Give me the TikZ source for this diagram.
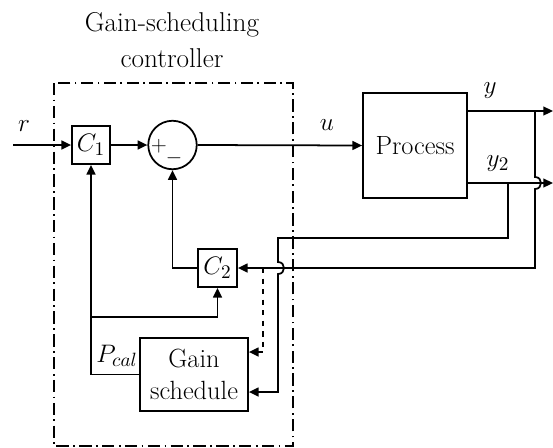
\documentclass[tikz,border=0pt]{standalone}
\usepackage{amsmath}
\usetikzlibrary{arrows.meta}

\begin{document}
\begin{tikzpicture}[x=0.02cm,y=-0.02cm,line width=1pt,font=\fontsize{15}{18}\selectfont,
  >={Triangle[length=5.5pt,width=5pt]},
  blk/.style={draw,rectangle,inner sep=1pt},
  sgn/.style={font=\fontsize{13}{15}\selectfont,inner sep=0pt},
  frame/.style={dash pattern=on 7pt off 2.5pt on 1pt off 2.5pt}]
\useasboundingbox (0,0) rectangle (553,447);
% controller frame
\draw[frame] (54,83) rectangle (293,446);
\node[align=center,font=\fontsize{15.5}{20.5}\selectfont] (title) at (172,40) {Gain-scheduling\\controller};
% blocks
\node[blk,minimum width=0.76cm,minimum height=0.76cm] (C1) at (91,145) {$C_1$};
\node[draw,circle,minimum size=0.97cm,inner sep=0pt] (sum) at (172.5,145) {};
\node[sgn] (plus) at (159,146) {$+$};
\node[sgn] (minus) at (174,158) {$-$};
\node[blk,minimum width=2.08cm,minimum height=2.1cm] (proc) at (415,145.5) {Process};
\node[blk,minimum width=0.78cm,minimum height=0.76cm] (C2) at (217.5,268) {$C_2$};
\node[blk,align=center,minimum width=2.16cm,minimum height=1.46cm,font=\fontsize{15}{18}\selectfont] (gs) at (194,374.5) {Gain\\schedule};
% free ends
\coordinate (rin) at (13,145);
\coordinate (yend) at (553,111);
\coordinate (ytwoend) at (553,183);
% labels
\node (r) at (24,126) {$r$};
\node (u) at (327,125) {$u$};
\node (y) at (490,91) {$y$};
\node (ytwo) at (498,164) {$y_2$};
\node (pcal) at (117,356) {$P_{cal}$};
% forward path
\draw[->] (rin) -- (C1.west);
\draw[->] (C1.east) -- (sum.west);
\draw[->] (sum.east) -- (proc.west);
\draw[->] (proc.east |- yend) -- (yend);
\draw[->] (proc.east |- ytwoend) -- (ytwoend);
% feedback of y
\draw[->] (535,111) -- (535,177) .. controls (543,177) and (543,189) .. (535,189) -- (535,268) -- (C2.east);
% feedback of y2
\draw[->] (508,183) -- (508,238) -- (278,238) -- (278,262) .. controls (286,262) and (286,274) .. (278,274) -- (278,392) -- (gs.east |- 0,392);
\draw[->,dashed] (263,268) -- (263,352) -- (gs.east |- 0,352);
% inner loops
\draw[->] (C2.west) -- (sum.south |- C2.west) -- (sum.south);
\draw[->] (gs.west) -- (C1.south |- gs.west) -- (C1.south);
\draw[->] (C1.south |- 0,317) -- (C2.south |- 0,317) -- (C2.south);
\end{tikzpicture}
\end{document}
